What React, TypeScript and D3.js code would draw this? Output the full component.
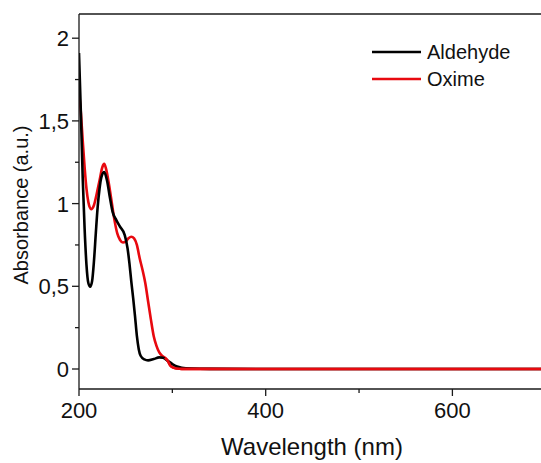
import React from "react";
import * as d3 from "d3";

const aldehydeX = [200, 202, 204, 206, 208, 210, 212, 214, 216, 218, 220, 222, 224, 227, 230, 233, 236, 240, 244, 249, 252, 254, 256, 258, 260, 262, 264, 266, 270, 274, 280, 286, 290, 295, 300, 305, 310, 320, 340, 400, 500, 600, 700];
const aldehydeY = [1.91, 1.55, 1.15, 0.85, 0.63, 0.52, 0.497, 0.53, 0.65, 0.82, 0.98, 1.09, 1.16, 1.19, 1.14, 1.04, 0.95, 0.9, 0.86, 0.81, 0.73, 0.64, 0.53, 0.43, 0.32, 0.2, 0.12, 0.08, 0.058, 0.052, 0.06, 0.07, 0.068, 0.05, 0.03, 0.015, 0.008, 0.003, 0.001, 0, 0, 0, 0];

const oximeX = [200, 202, 204, 206, 208, 210, 213, 216, 219, 222, 225, 227, 229, 232, 235, 238, 241, 244, 247, 250, 253, 256, 259, 262, 265, 268, 271, 274, 277, 280, 283, 286, 289, 292, 295, 298, 301, 305, 310, 400, 500, 600, 700];
const oximeY = [1.68, 1.55, 1.38, 1.22, 1.09, 1.01, 0.966, 0.99, 1.06, 1.14, 1.22, 1.24, 1.21, 1.12, 1.01, 0.9, 0.82, 0.78, 0.765, 0.77, 0.79, 0.8, 0.79, 0.75, 0.67, 0.6, 0.52, 0.41, 0.3, 0.2, 0.14, 0.1, 0.08, 0.068, 0.05, 0.02, 0.008, 0.003, 0.001, 0, 0, 0, 0];

const xTicks = [200, 400, 600];
const xMinorTicks = [300, 500, 700];
const yTicks = [0, 0.5, 1, 1.5, 2];
const yMinorTicks = [0.25, 0.75, 1.25, 1.75];

const seriesNames = ["Aldehyde", "Oxime"];
const seriesColors = ["#000000", "#e8090f"];

export default function App() {
  const W = 541, H = 463;
  const left = 79, top = 14, bottom = 389;
  const x = d3.scaleLinear().domain([200, 700]).range([left, left + 500 * 0.9335]);
  const y = d3.scaleLinear().domain([0, 2]).range([369, 369 - 4 * 82.7]);
  const line = d3.line<[number, number]>().x(d => x(d[0])).y(d => y(d[1])).curve(d3.curveMonotoneX);
  const aData = aldehydeX.map((v, i) => [v, aldehydeY[i]] as [number, number]);
  const oData = oximeX.map((v, i) => [v, oximeY[i]] as [number, number]);
  const fmt = (v: number) => String(v).replace(".", ",");
  const font = "'Liberation Sans', Arial, sans-serif";
  const axisColor = "#1a1a1a";
  return (
    <svg width={W} height={H} style={{ position: "absolute", left: 0, top: 0 }} fontFamily={font}>
      <defs>
        <clipPath id="plot">
          <rect x={left} y={top} width={W - left} height={bottom - top} />
        </clipPath>
      </defs>
      <g clipPath="url(#plot)">
        <path d={line(oData) || ""} fill="none" stroke={seriesColors[1]} strokeWidth={2.6} />
        <path d={line(aData) || ""} fill="none" stroke={seriesColors[0]} strokeWidth={2.6} />
        <path d={line(oData.filter(d => d[0] >= 290)) || ""} fill="none" stroke={seriesColors[1]} strokeWidth={2.6} />
      </g>
      <line x1={left} x2={W} y1={top} y2={top} stroke={axisColor} strokeWidth={1.3} />
      <line x1={left} x2={left} y1={top} y2={bottom} stroke={axisColor} strokeWidth={1.3} />
      <line x1={left} x2={W} y1={bottom} y2={bottom} stroke={axisColor} strokeWidth={1.3} />
      {xTicks.map(t => (
        <g key={"xt" + t}>
          <line x1={x(t)} x2={x(t)} y1={bottom} y2={bottom + 7} stroke={axisColor} strokeWidth={1.3} />
          <text x={x(t)} y={418} textAnchor="middle" fontSize={22} fill="#111">{t}</text>
        </g>
      ))}
      {xMinorTicks.map(t => (
        <line key={"xm" + t} x1={x(t)} x2={x(t)} y1={bottom} y2={bottom + 4} stroke={axisColor} strokeWidth={1.3} />
      ))}
      {yTicks.map(t => (
        <g key={"yt" + t}>
          <line x1={left - 7} x2={left} y1={y(t)} y2={y(t)} stroke={axisColor} strokeWidth={1.3} />
          <text x={69} y={y(t)} dy="0.36em" textAnchor="end" fontSize={22} fill="#111">{fmt(t)}</text>
        </g>
      ))}
      {yMinorTicks.map(t => (
        <line key={"ym" + t} x1={left - 4} x2={left} y1={y(t)} y2={y(t)} stroke={axisColor} strokeWidth={1.3} />
      ))}
      <text x={312} y={455} textAnchor="middle" fontSize={24} fill="#111">Wavelength (nm)</text>
      <text transform={`translate(28,205) rotate(-90)`} textAnchor="middle" fontSize={20} fill="#111">Absorbance (a.u.)</text>
      {seriesNames.map((n, i) => (
        <g key={n}>
          <line x1={372} x2={421} y1={52 + i * 27} y2={52 + i * 27} stroke={seriesColors[i]} strokeWidth={2.6} />
          <text x={427} y={52 + i * 27} dy="0.36em" fontSize={20} fill="#111">{n}</text>
        </g>
      ))}
    </svg>
  );
}
